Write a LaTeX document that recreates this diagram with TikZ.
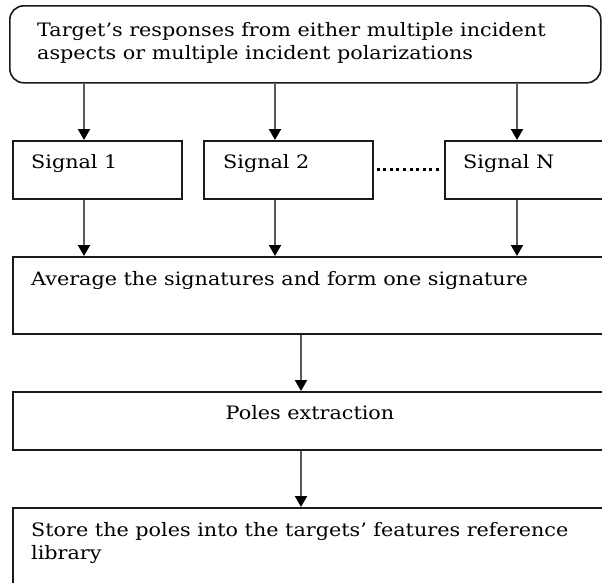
\documentclass[tikz,border=0pt]{standalone}
\usepackage{fontspec}
\setmainfont[FakeStretch=1.12]{DejaVu Serif}
\usetikzlibrary{arrows.meta}
\definecolor{edge}{HTML}{1A1A1A}
\definecolor{shaft}{HTML}{5A5A5A}
\begin{document}
\begin{tikzpicture}[x=1pt,y=-1pt,
  box/.style={draw=edge,line width=1.6pt,rectangle,inner sep=0pt,anchor=north west},
  roundbox/.style={box,rounded corners=14pt},
  label/.style={inner sep=0pt,anchor=base west,font=\fontsize{18.5}{23}\selectfont,text=black},
  flow/.style={draw=shaft,line width=2.1pt,-{Triangle[length=11pt,width=12pt,color=black]}},
  dots/.style={draw=black,line width=3pt,dash pattern=on 3pt off 3.6pt}]
\useasboundingbox (0,0) rectangle (602,582);
\clip (0,0) rectangle (602,582);
\fill[white] (0,0) rectangle (602,582);

% column positions of the connectors
\coordinate (c1) at (84,0);
\coordinate (c2) at (275,0);
\coordinate (c3) at (517,0);
\coordinate (cm) at (301,0);

% boxes
\node[roundbox,minimum width=591pt,minimum height=77pt] (top) at (9,5) {};
\node[box,minimum width=169pt,minimum height=58pt] (s1) at (12,140) {};
\node[box,minimum width=169pt,minimum height=58pt] (s2) at (203,140) {};
\node[box,minimum width=180pt,minimum height=58pt] (sN) at (444,140) {};
\node[box,minimum width=610pt,minimum height=77pt] (avg) at (12,256) {};
\node[box,minimum width=610pt,minimum height=58pt] (poles) at (12,391) {};
\node[box,minimum width=610pt,minimum height=100pt] (store) at (12,507) {};

% texts
\node[label,align=left] (ttop) at (37,59) {Target’s responses from either multiple incident\\aspects or multiple incident polarizations};
\node[label] (ts1) at (31,168) {Signal 1};
\node[label] (ts2) at (223,168) {Signal 2};
\node[label] (tsN) at (463,168) {Signal N};
\node[label] (tavg) at (31,285) {Average the signatures and form one signature};
\node[label,anchor=base] (tpoles) at (310,419) {Poles extraction};
\node[label,align=left] (tstore) at (31,559) {Store the poles into the targets’ features reference\\library};

% connectors
\draw[flow] (top.south -| c1) -- (s1.north -| c1);
\draw[flow] (top.south -| c2) -- (s2.north -| c2);
\draw[flow] (top.south -| c3) -- (sN.north -| c3);
\draw[flow] (s1.south -| c1) -- (avg.north -| c1);
\draw[flow] (s2.south -| c2) -- (avg.north -| c2);
\draw[flow] (sN.south -| c3) -- (avg.north -| c3);
\draw[flow] (avg.south -| cm) -- (poles.north -| cm);
\draw[flow] (poles.south -| cm) -- (store.north -| cm);
\draw[dots,shorten <=3pt,shorten >=3pt] (s2.east) -- (sN.west);
\end{tikzpicture}
\end{document}
